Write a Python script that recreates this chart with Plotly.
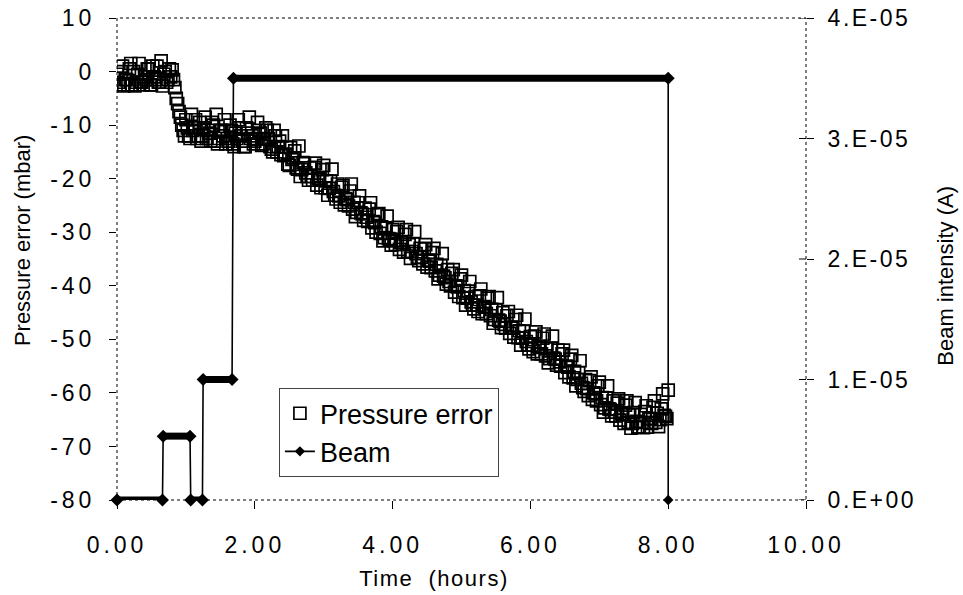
import plotly.graph_objects as go

# ---------------- data ----------------
# pressure error readings (two interleaved sets of logger readings)
pressure_time = [
    0.00, 0.04, 0.08, 0.12, 0.16, 0.20, 0.24, 0.28, 0.32, 0.36,
    0.40, 0.44, 0.48, 0.52, 0.56, 0.60, 0.64, 0.68, 0.72, 0.76,
    0.80, 0.84, 0.88, 0.92, 0.96, 1.00, 1.04, 1.08, 1.12, 1.16,
    1.20, 1.24, 1.28, 1.32, 1.36, 1.40, 1.44, 1.48, 1.52, 1.56,
    1.60, 1.64, 1.68, 1.72, 1.76, 1.80, 1.84, 1.88, 1.92, 1.96,
    2.00, 2.04, 2.08, 2.12, 2.16, 2.20, 2.24, 2.28, 2.32, 2.36,
    2.40, 2.44, 2.48, 2.52, 2.56, 2.60, 2.64, 2.68, 2.72, 2.76,
    2.80, 2.84, 2.88, 2.92, 2.96, 3.00, 3.04, 3.08, 3.12, 3.16,
    3.20, 3.24, 3.28, 3.32, 3.36, 3.40, 3.44, 3.48, 3.52, 3.56,
    3.60, 3.64, 3.68, 3.72, 3.76, 3.80, 3.84, 3.88, 3.92, 3.96,
    4.00, 4.04, 4.08, 4.12, 4.16, 4.20, 4.24, 4.28, 4.32, 4.36,
    4.40, 4.44, 4.48, 4.52, 4.56, 4.60, 4.64, 4.68, 4.72, 4.76,
    4.80, 4.84, 4.88, 4.92, 4.96, 5.00, 5.04, 5.08, 5.12, 5.16,
    5.20, 5.24, 5.28, 5.32, 5.36, 5.40, 5.44, 5.48, 5.52, 5.56,
    5.60, 5.64, 5.68, 5.72, 5.76, 5.80, 5.84, 5.88, 5.92, 5.96,
    6.00, 6.04, 6.08, 6.12, 6.16, 6.20, 6.24, 6.28, 6.32, 6.36,
    6.40, 6.44, 6.48, 6.52, 6.56, 6.60, 6.64, 6.68, 6.72, 6.76,
    6.80, 6.84, 6.88, 6.92, 6.96, 7.00, 7.04, 7.08, 7.12, 7.16,
    7.20, 7.24, 7.28, 7.32, 7.36, 7.40, 7.44, 7.48, 7.52, 7.56,
    7.60, 7.64, 7.68, 7.72, 7.76, 7.80, 7.84, 7.88, 7.92, 7.96,
    8.00,
]
pressure_error = [
    -0.5, -2.5, 1.0, -1.5, -2.5, 1.5, 0.0, -2.0, 1.5, -2.0,
    -1.0, 0.5, -2.5, 1.0, -1.5, -2.0, 2.0, -0.5, -2.0, 0.5,
    0.3, -3.0, -6.0, -8.5, -11.0, -9.0, -12.0, -8.0, -10.5, -12.5,
    -9.5, -12.0, -8.5, -11.0, -13.0, -10.0, -8.0, -12.5, -11.0, -9.0,
    -12.5, -10.0, -13.5, -11.5, -9.0, -12.0, -14.0, -10.5, -8.5, -12.0,
    -13.0, -9.5, -11.5, -13.5, -10.5, -12.5, -14.5, -11.0, -15.0, -13.0,
    -12.0, -15.4, -17.3, -14.2, -16.1, -18.0, -13.9, -18.3, -17.2, -19.6,
    -18.0, -20.3, -17.1, -19.9, -21.7, -17.5, -20.4, -21.8, -18.2, -23.1,
    -21.0, -24.4, -21.3, -23.7, -25.1, -21.0, -24.4, -26.3, -23.2, -26.6,
    -25.5, -28.0, -24.5, -28.0, -30.0, -26.5, -29.0, -31.0, -27.0, -31.3,
    -29.5, -32.3, -29.1, -31.9, -33.7, -29.5, -32.3, -33.6, -29.9, -34.7,
    -33.0, -35.9, -32.3, -35.2, -36.6, -33.0, -36.0, -38.0, -34.0, -38.5,
    -37.0, -40.0, -37.0, -40.0, -42.0, -38.0, -40.9, -42.3, -39.2, -43.6,
    -42.0, -44.8, -40.6, -43.9, -45.2, -42.0, -44.4, -46.3, -42.2, -46.6,
    -45.0, -47.9, -44.8, -47.7, -49.6, -45.5, -48.4, -49.8, -46.2, -51.1,
    -49.5, -52.3, -48.6, -51.4, -52.7, -49.0, -51.8, -53.6, -49.4, -53.7,
    -52.0, -55.0, -52.0, -55.0, -57.0, -53.0, -56.0, -57.5, -54.0, -59.0,
    -57.5, -60.5, -57.0, -60.0, -61.5, -58.0, -60.9, -62.8, -58.7, -63.1,
    -61.5, -64.3, -61.1, -63.9, -65.7, -61.5, -64.1, -65.7, -61.8, -66.4,
    -64.0, -66.5, -62.4, -64.8, -65.7, -61.5, -63.8, -65.0, -60.2, -64.4,
    -59.5,
]
pressure_time_b = [
    0.02, 0.06, 0.10, 0.14, 0.18, 0.22, 0.26, 0.30, 0.34, 0.38,
    0.42, 0.46, 0.50, 0.54, 0.58, 0.62, 0.66, 0.70, 0.74, 0.78,
    0.82, 0.86, 0.90, 0.94, 0.98, 1.02, 1.06, 1.10, 1.14, 1.18,
    1.22, 1.26, 1.30, 1.34, 1.38, 1.42, 1.46, 1.50, 1.54, 1.58,
    1.62, 1.66, 1.70, 1.74, 1.78, 1.82, 1.86, 1.90, 1.94, 1.98,
    2.02, 2.06, 2.10, 2.14, 2.18, 2.22, 2.26, 2.30, 2.34, 2.38,
    2.42, 2.46, 2.50, 2.54, 2.58, 2.62, 2.66, 2.70, 2.74, 2.78,
    2.82, 2.86, 2.90, 2.94, 2.98, 3.02, 3.06, 3.10, 3.14, 3.18,
    3.22, 3.26, 3.30, 3.34, 3.38, 3.42, 3.46, 3.50, 3.54, 3.58,
    3.62, 3.66, 3.70, 3.74, 3.78, 3.82, 3.86, 3.90, 3.94, 3.98,
    4.02, 4.06, 4.10, 4.14, 4.18, 4.22, 4.26, 4.30, 4.34, 4.38,
    4.42, 4.46, 4.50, 4.54, 4.58, 4.62, 4.66, 4.70, 4.74, 4.78,
    4.82, 4.86, 4.90, 4.94, 4.98, 5.02, 5.06, 5.10, 5.14, 5.18,
    5.22, 5.26, 5.30, 5.34, 5.38, 5.42, 5.46, 5.50, 5.54, 5.58,
    5.62, 5.66, 5.70, 5.74, 5.78, 5.82, 5.86, 5.90, 5.94, 5.98,
    6.02, 6.06, 6.10, 6.14, 6.18, 6.22, 6.26, 6.30, 6.34, 6.38,
    6.42, 6.46, 6.50, 6.54, 6.58, 6.62, 6.66, 6.70, 6.74, 6.78,
    6.82, 6.86, 6.90, 6.94, 6.98, 7.02, 7.06, 7.10, 7.14, 7.18,
    7.22, 7.26, 7.30, 7.34, 7.38, 7.42, 7.46, 7.50, 7.54, 7.58,
    7.62, 7.66, 7.70, 7.74, 7.78, 7.82, 7.86, 7.90, 7.94, 7.98,
]
pressure_error_b = [
    -2.0, 0.0, -2.7, -1.5, 0.5, -2.5, -2.7, -0.5, -2.0, -2.5,
    -1.5, 0.5, -2.5, -1.0, 1.0, -2.0, -2.7, 0.0, -1.5, -1.0,
    -1.5, -5.0, -7.5, -10.0, -12.0, -10.5, -12.5, -11.0, -9.0, -12.0,
    -13.0, -10.5, -12.5, -11.5, -9.5, -13.0, -13.5, -11.0, -12.0, -13.5,
    -13.0, -11.0, -14.0, -12.5, -10.5, -13.0, -14.0, -11.5, -12.5, -13.5,
    -12.6, -11.0, -13.8, -12.6, -11.0, -14.0, -15.0, -12.0, -14.0, -15.5,
    -15.7, -14.1, -17.5, -16.4, -14.8, -18.2, -19.6, -17.0, -18.9, -20.3,
    -19.6, -17.9, -21.2, -20.1, -18.3, -21.7, -23.1, -20.5, -22.4, -23.8,
    -23.2, -21.6, -24.9, -23.9, -22.3, -25.7, -27.1, -24.5, -26.4, -27.8,
    -27.2, -25.7, -29.2, -28.2, -26.7, -30.2, -31.6, -29.2, -31.2, -32.4,
    -31.6, -29.9, -33.2, -32.0, -30.4, -33.6, -34.9, -32.2, -34.0, -35.3,
    -34.7, -33.1, -36.5, -35.4, -33.8, -37.2, -38.7, -36.2, -38.2, -39.7,
    -39.2, -37.7, -41.2, -40.2, -38.7, -42.2, -43.6, -41.0, -43.0, -44.3,
    -43.6, -41.9, -45.2, -44.0, -42.3, -45.6, -47.0, -44.5, -46.4, -47.8,
    -47.2, -45.6, -48.9, -47.9, -46.3, -49.7, -51.1, -48.5, -50.4, -51.8,
    -51.1, -49.4, -52.7, -51.5, -49.8, -53.1, -54.4, -51.7, -53.5, -54.8,
    -54.2, -52.7, -56.2, -55.2, -53.7, -57.2, -58.7, -56.2, -58.2, -59.7,
    -59.2, -57.7, -61.2, -60.2, -58.7, -62.2, -63.6, -61.0, -63.0, -64.3,
    -63.6, -61.9, -65.1, -64.0, -62.3, -65.5, -66.6, -63.7, -65.3, -66.4,
    -65.5, -63.5, -66.4, -64.8, -62.7, -65.5, -66.3, -63.0, -64.2, -64.8,
]

beam_time = [0.00, 0.66, 0.67, 1.06, 1.07, 1.24, 1.25, 1.67, 1.69, 8.00, 8.00]
beam_current = [0.0, 0.0, 5.3e-6, 5.3e-6, 0.0, 0.0, 1.0e-5, 1.0e-5, 3.5e-5, 3.5e-5, 0.0]

x_ticks = [0, 2, 4, 6, 8, 10]
x_ticktext = ["0.00", "2.00", "4.00", "6.00", "8.00", "10.00"]
y_ticks = [10, 0, -10, -20, -30, -40, -50, -60, -70, -80]
y_ticktext = ["10", "0", "-10", "-20", "-30", "-40", "-50", "-60", "-70", "-80"]
y2_ticks = [0, 1e-5, 2e-5, 3e-5, 4e-5]
y2_ticktext = ["0.E+00", "1.E-05", "2.E-05", "3.E-05", "4.E-05"]

# --------------- figure ---------------
FONT = "Liberation Sans, Arial, sans-serif"
TICK_FONT = dict(family=FONT, size=23, color="black")
fig = go.Figure()

# merge both reading sets in time order
readings = sorted(zip(pressure_time + pressure_time_b, pressure_error + pressure_error_b))
fig.add_trace(go.Scatter(
    x=[r[0] for r in readings], y=[r[1] for r in readings],
    mode="markers", name="Pressure error",
    marker=dict(symbol="square-open", size=12, color="black",
                line=dict(color="black", width=1.7)),
    yaxis="y",
))

# thick plateaus of the beam (segments between equal consecutive values)
seg_x, seg_y = [], []
for i in range(len(beam_time) - 1):
    if beam_current[i] == beam_current[i + 1] and beam_time[i] != beam_time[i + 1]:
        seg_x += [beam_time[i], beam_time[i + 1], None]
        seg_y += [beam_current[i], beam_current[i + 1], None]

fig.add_trace(go.Scatter(
    x=beam_time, y=beam_current, mode="lines+markers", name="Beam",
    line=dict(color="black", width=1.6),
    marker=dict(symbol="diamond", size=8, color="black"),
    yaxis="y2", cliponaxis=False,
))
fig.add_trace(go.Scatter(
    x=seg_x, y=seg_y, mode="lines+markers", showlegend=False,
    line=dict(color="black", width=7),
    marker=dict(symbol="diamond", size=10, color="black"),
    yaxis="y2", hoverinfo="skip", cliponaxis=False,
))

# dotted plot frame
shapes = [dict(type="rect", xref="paper", yref="paper", x0=0, x1=1, y0=0, y1=1,
               line=dict(color="black", width=1, dash="dot"), layer="below")]
# inner halves of right-axis tick marks
for v in y2_ticks:
    shapes.append(dict(type="line", xref="paper", yref="y2", x0=1 - 7 / 689, x1=1,
                       y0=v, y1=v, line=dict(color="black", width=1)))

title_font = dict(family=FONT, size=22, color="black")
annotations = [
    dict(text="Time  (hours)", xref="paper", yref="paper", x=0.46, y=-0.162,
         showarrow=False, font=title_font, xanchor="center", yanchor="middle"),
    dict(text="Pressure error (mbar)", xref="paper", yref="paper", x=-0.138, y=0.539,
         showarrow=False, font=title_font, textangle=-90, xanchor="center", yanchor="middle"),
    dict(text="Beam intensity (A)", xref="paper", yref="paper", x=1.203, y=0.465,
         showarrow=False, font=title_font, textangle=-90, xanchor="center", yanchor="middle"),
]

fig.update_layout(
    width=963, height=595, autosize=False,
    margin=dict(l=117, r=157, t=18, b=95),
    paper_bgcolor="white", plot_bgcolor="white",
    font=dict(family=FONT, size=22, color="black"),
    showlegend=True,
    legend=dict(x=0.235, y=0.232, xanchor="left", yanchor="top",
                bgcolor="white", bordercolor="#444", borderwidth=1,
                font=dict(family=FONT, size=27, color="black"), tracegroupgap=0,
                itemwidth=30),
    shapes=shapes,
    annotations=annotations,
    xaxis=dict(range=[0, 10], tickvals=x_ticks, ticktext=x_ticktext,
               ticks="outside", ticklen=8, tickcolor="black", tickwidth=1,
               showline=False, showgrid=False, zeroline=False, automargin=False,
               ticklabelstandoff=16, tickfont=TICK_FONT),
    yaxis=dict(range=[-80, 10], tickvals=y_ticks, ticktext=y_ticktext,
               ticks="outside", ticklen=7, tickcolor="black", tickwidth=1,
               showline=False, showgrid=False, zeroline=False, automargin=False,
               ticklabelstandoff=9, tickfont=TICK_FONT),
    yaxis2=dict(range=[0, 4e-5], tickvals=y2_ticks, ticktext=y2_ticktext,
                overlaying="y", side="right", anchor="x",
                ticks="outside", ticklen=7, tickcolor="black", tickwidth=1,
                showline=False, showgrid=False, zeroline=False, automargin=False,
                ticklabelstandoff=9, tickfont=TICK_FONT),
)

post = """
document.body.style.margin = '0';
document.body.style.padding = '0';
var gd = document.getElementById('{plot_id}');
function spaceTicks(){
  gd.querySelectorAll('.xtick text, .ytick text').forEach(function(t){
    t.style.letterSpacing = '4px';
  });
  gd.querySelectorAll('.y2tick text').forEach(function(t){
    t.style.letterSpacing = '2.5px';
  });
  gd.querySelectorAll('.annotation-text').forEach(function(t){
    if (t.textContent.indexOf('Time') === 0) {
      t.style.whiteSpace = 'pre';
      t.style.letterSpacing = '1.5px';
    }
  });
}
spaceTicks();
gd.on('plotly_afterplot', spaceTicks);
"""

fig.write_html("out.html", post_script=post, config={"displayModeBar": False})
